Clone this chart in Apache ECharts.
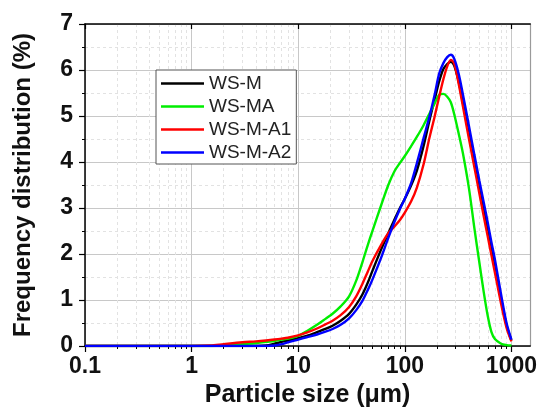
<!DOCTYPE html>
<html>
<head>
<meta charset="utf-8">
<script src="https://cdn.jsdelivr.net/npm/echarts@6/dist/echarts.min.js"></script>
<style>
  html, body { margin: 0; padding: 0; background: #fff; }
  #chart { width: 540px; height: 413px; }
</style>
</head>
<body>
<div id="chart"></div>
<script>
// Particle sizes (µm) at which the distributions are sampled
const sizes = [0.1, 0.5, 1, 1.5, 2, 3, 4, 5, 6, 7, 8, 10, 12, 15, 18, 21, 25, 30, 35, 40, 45, 50,
  60, 70, 80, 90, 100, 115, 130, 150, 170, 190, 210, 230, 250, 270, 290, 320, 350, 400, 450, 500,
  550, 600, 650, 700, 800, 900, 1000];

// Frequency distribution (%) for each sample
const wsM = [0, 0, 0, 0, 0, 0, 0, 0.01, 0.05, 0.09, 0.12, 0.17, 0.22, 0.3, 0.37, 0.44, 0.55, 0.7, 0.9, 1.12, 1.38, 1.65,
  2.1, 2.45, 2.75, 3.0, 3.2, 3.5, 3.82, 4.35, 4.9, 5.35, 5.75, 6.02, 6.13, 6.18, 6.1, 5.75, 5.3, 4.6, 4.0, 3.45,
  2.95, 2.5, 2.08, 1.72, 1.02, 0.45, 0.12];
const wsMA = [0, 0, 0, 0, 0.01, 0.04, 0.06, 0.09, 0.11, 0.14, 0.16, 0.22, 0.32, 0.46, 0.59, 0.7, 0.86, 1.08, 1.42, 1.82, 2.2, 2.52,
  3.06, 3.5, 3.8, 3.98, 4.13, 4.35, 4.55, 4.8, 5.05, 5.27, 5.46, 5.48, 5.42, 5.3, 5.05, 4.62, 4.2, 3.42, 2.55, 1.82,
  1.17, 0.65, 0.3, 0.15, 0.05, 0.02, 0.01];
const wsMA1 = [0, 0, 0, 0.01, 0.04, 0.08, 0.1, 0.12, 0.14, 0.16, 0.18, 0.23, 0.29, 0.38, 0.47, 0.55, 0.67, 0.85, 1.08, 1.35, 1.62, 1.86,
  2.2, 2.45, 2.6, 2.74, 2.9, 3.15, 3.45, 3.95, 4.52, 4.98, 5.42, 5.8, 6.08, 6.22, 6.15, 5.7, 5.22, 4.5, 3.88, 3.32,
  2.82, 2.38, 1.97, 1.6, 0.92, 0.4, 0.1];
const wsMA2 = [0, 0, 0, 0, 0, 0, 0, 0, 0.01, 0.04, 0.08, 0.14, 0.19, 0.25, 0.31, 0.37, 0.46, 0.6, 0.78, 0.98, 1.22, 1.46,
  1.92, 2.35, 2.7, 2.98, 3.2, 3.55, 3.98, 4.52, 4.98, 5.45, 5.92, 6.15, 6.28, 6.33, 6.25, 5.92, 5.48, 4.78, 4.15, 3.6,
  3.12, 2.68, 2.25, 1.88, 1.12, 0.5, 0.14];

const seriesNames = ['WS-M', 'WS-MA', 'WS-M-A1', 'WS-M-A2'];
const seriesValues = [wsM, wsMA, wsMA1, wsMA2];
const seriesColors = ['#000000', '#00ee00', '#ff0000', '#0000ff'];

// Axis ticks
const decadeTicks = [0.1, 1, 10, 100, 1000];
const minorXTicks = [];
[0.1, 1, 10, 100].forEach(function (d) {
  for (let k = 2; k <= 9; k++) minorXTicks.push(+(d * k).toPrecision(3));
});
const yMin = 0, yMax = 7, yStep = 1;

const FONT = '"Liberation Sans", Arial, Helvetica, sans-serif';
const xMin = 0.1, xMax = 1500;

const chart = echarts.init(document.getElementById('chart'), null, { renderer: 'canvas' });

const baseLog = {
  type: 'log', logBase: 10, min: xMin, max: xMax, gridIndex: 0
};

chart.setOption({
  animation: false,
  backgroundColor: '#ffffff',
  grid: { left: 85, right: 9, top: 24, bottom: 64, containLabel: false },
  legend: {
    orient: 'vertical',
    left: 156, top: 70,
    padding: [4, 5, 2, 5],
    itemGap: 4,
    itemWidth: 43,
    itemHeight: 19,
    backgroundColor: '#ffffff',
    borderColor: '#555555',
    borderWidth: 1,
    textStyle: { fontFamily: FONT, fontSize: 19, color: '#222', lineHeight: 19 },
    data: seriesNames.map(function (n) { return { name: n, icon: 'path://M0,0 L43,0 L43,2.6 L0,2.6 Z' }; })
  },
  xAxis: [
    Object.assign({}, baseLog, {
      position: 'bottom',
      name: 'Particle size (μm)',
      nameLocation: 'middle',
      nameGap: 37,
      nameTextStyle: { fontFamily: FONT, fontSize: 25, fontWeight: 'bold', color: '#111' },
      axisLine: { show: true, onZero: false, lineStyle: { color: '#000', width: 1.5 } },
      axisTick: { show: true, inside: false, length: 6, customValues: decadeTicks, lineStyle: { color: '#000', width: 1.2 } },
      axisLabel: {
        customValues: decadeTicks, margin: 9,
        fontFamily: FONT, fontSize: 23, fontWeight: 'bold', color: '#111',
        formatter: function (v) { return String(v); }
      },
      splitLine: { show: true, lineStyle: { color: '#c8c8c8', width: 1 } }
    }),
    Object.assign({}, baseLog, {
      position: 'bottom',
      axisLine: { show: false },
      axisTick: { show: true, inside: false, length: 3, customValues: minorXTicks, lineStyle: { color: '#000', width: 1 } },
      axisLabel: { show: false },
      splitLine: { show: true, lineStyle: { color: '#e2e2e2', width: 1, type: [3, 3] } }
    }),
    Object.assign({}, baseLog, {
      position: 'top',
      axisLine: { show: true, onZero: false, lineStyle: { color: '#000', width: 1.5 } },
      axisTick: { show: true, inside: true, length: 5, customValues: decadeTicks, lineStyle: { color: '#000', width: 1.2 } },
      axisLabel: { show: false },
      splitLine: { show: false }
    }),
    Object.assign({}, baseLog, {
      position: 'top',
      axisLine: { show: false },
      axisTick: { show: true, inside: true, length: 3, customValues: minorXTicks, lineStyle: { color: '#000', width: 1 } },
      axisLabel: { show: false },
      splitLine: { show: false }
    })
  ],
  yAxis: [
    {
      type: 'value', min: yMin, max: yMax, interval: yStep,
      position: 'left',
      name: 'Frequency distribution (%)',
      nameLocation: 'middle',
      nameGap: 50,
      nameTextStyle: { fontFamily: FONT, fontSize: 24, fontWeight: 'bold', color: '#111' },
      axisLine: { show: true, onZero: false, lineStyle: { color: '#000', width: 1.5 } },
      axisTick: { show: true, inside: false, length: 6, lineStyle: { color: '#000', width: 1.2 } },
      minorTick: { show: true, splitNumber: 2, length: 3, lineStyle: { color: '#000', width: 1 } },
      axisLabel: { margin: 12, fontFamily: FONT, fontSize: 23, fontWeight: 'bold', color: '#111' },
      splitLine: { show: true, lineStyle: { color: '#c8c8c8', width: 1 } },
      minorSplitLine: { show: true, lineStyle: { color: '#e2e2e2', width: 1, type: [3, 3] } }
    },
    {
      type: 'value', min: yMin, max: yMax, interval: yStep,
      position: 'right',
      axisLine: { show: true, onZero: false, lineStyle: { color: '#9a9a9a', width: 1.2 } },
      axisTick: { show: false },
      axisLabel: { show: false },
      splitLine: { show: false }
    }
  ],
  series: seriesNames.map(function (name, i) {
    return {
      name: name,
      type: 'line',
      xAxisIndex: 0,
      yAxisIndex: 0,
      data: sizes.map(function (s, j) { return [s, seriesValues[i][j]]; }),
      showSymbol: false,
      symbol: 'none',
      smooth: 0.3,
      color: seriesColors[i],
      lineStyle: { color: seriesColors[i], width: 2.4 },
      z: 3 + i
    };
  })
});
</script>
</body>
</html>
